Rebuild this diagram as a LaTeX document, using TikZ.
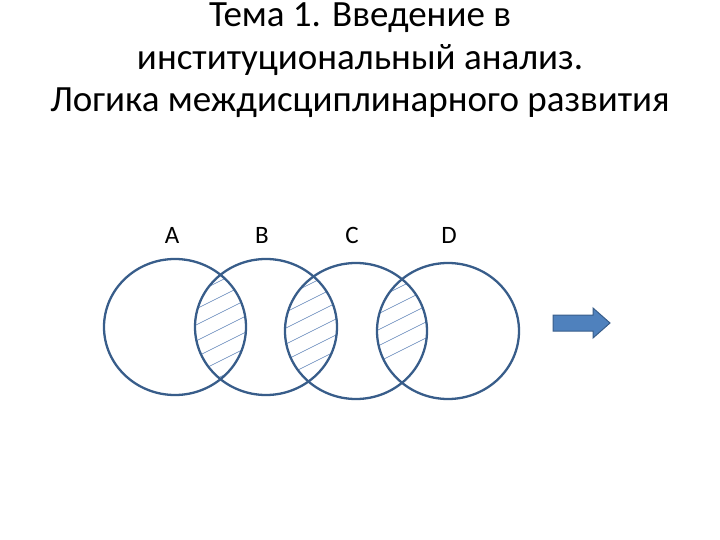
\documentclass[tikz,border=0pt]{standalone}
\usepackage{fontspec}
\setmainfont{Carlito}
\definecolor{ring}{HTML}{385D8A}
\definecolor{hatch}{HTML}{5A7FB5}
\definecolor{arr}{HTML}{4F81BD}
\begin{document}
\begin{tikzpicture}[x=1pt,y=-1pt,
  ttl/.style={font=\fontsize{37}{37}\selectfont},
  lbl/.style={font=\fontsize{25}{25}\selectfont},
  ring/.style={draw=ring,line width=2.3pt}]
\useasboundingbox (0,0) rectangle (720,540);
\node[ttl] (t1) at (360,18) {Тема 1. Введение в};
\node[ttl] (t2) at (360,60) {институциональный анализ.};
\node[ttl] (t3) at (360,103) {Логика междисциплинарного развития};
\node[lbl] (la) at (172,235) {A};
\node[lbl] (lb) at (262,235) {B};
\node[lbl] (lc) at (352,235) {C};
\node[lbl] (ld) at (449,235) {D};
\def\cA{(175,327) ellipse [x radius=71,y radius=68]}
\def\cB{(266,327) ellipse [x radius=71,y radius=68]}
\def\cC{(356,331) ellipse [x radius=71,y radius=68]}
\def\cD{(448,331) ellipse [x radius=71,y radius=68]}
\foreach \p/\q in {\cA/\cB,\cB/\cC,\cC/\cD}{
  \begin{scope}
    \clip \p; \clip \q;
    \foreach \k in {-40,-24,...,220}
      \draw[hatch,line width=0.6pt] (150,260+\k) -- (500,85+\k);
  \end{scope}}
\draw[ring] \cA; \draw[ring] \cB; \draw[ring] \cC; \draw[ring] \cD;
\draw[fill=arr,draw=ring,line width=1pt]
  (553,315) -- (593,315) -- (593,308) -- (610,323) -- (593,338) -- (593,331) -- (553,331) -- cycle;
\end{tikzpicture}
\end{document}
